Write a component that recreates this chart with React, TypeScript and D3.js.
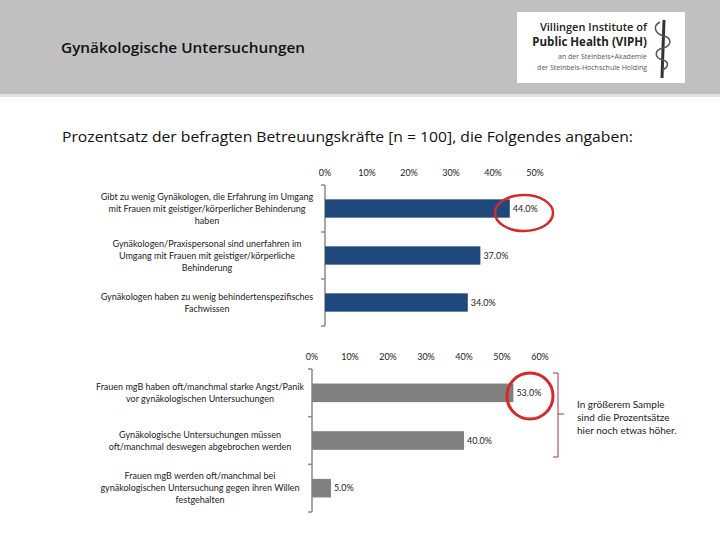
import * as d3 from "d3";

// chart 1 (blue)
const topCategories = [
  "Gibt zu wenig Gynäkologen, die Erfahrung im Umgang\nmit Frauen mit geistiger/körperlicher Behinderung\nhaben",
  "Gynäkologen/Praxispersonal sind unerfahren im\nUmgang mit Frauen mit geistiger/körperliche\nBehinderung",
  "Gynäkologen haben zu wenig behindertenspezifisches\nFachwissen",
];
const topValues = [44, 37, 34];
const topTicks = [0, 10, 20, 30, 40, 50];

// chart 2 (grey)
const bottomCategories = [
  "Frauen mgB haben oft/manchmal starke Angst/Panik\nvor gynäkologischen Untersuchungen",
  "Gynäkologische Untersuchungen müssen\noft/manchmal deswegen abgebrochen werden",
  "Frauen mgB werden oft/manchmal bei\ngynäkologischen Untersuchung gegen ihren Willen\nfestgehalten",
];
const bottomValues = [53, 40, 5];
const bottomTicks = [0, 10, 20, 30, 40, 50, 60];

const noteLines = ["In größerem Sample", "sind die Prozentsätze", "hier noch etwas höher."];

const FONT = "Lato, 'Open Sans', sans-serif";

function BarPanel(props: {
  cats: string[];
  values: number[];
  ticks: number[];
  x0: number;
  x1: number;
  y0: number;
  y1: number;
  labelX: number;
  color: string;
}) {
  const { cats, values, ticks, x0, x1, y0, y1, labelX, color } = props;
  const x = d3.scaleLinear().domain([0, ticks[ticks.length - 1]]).range([x0, x1]);
  const y = d3
    .scaleBand<number>()
    .domain(cats.map((_, i) => i))
    .range([y0, y1])
    .paddingInner(0.61)
    .paddingOuter(0.305);
  const step = y.step();
  const bounds = d3.range(cats.length + 1).map((i) => y0 + i * step);

  return (
    <g fontFamily={FONT}>
      {ticks.map((t) => (
        <text key={t} x={x(t)} y={y0 - 9} textAnchor="middle" fontSize={9} fill="#222">
          {t}%
        </text>
      ))}
      <line x1={x0} x2={x0} y1={y0} y2={y1} stroke="#8a8a8a" strokeWidth={1.5} />
      {bounds.map((b, i) => (
        <line key={i} x1={x0 - 4} x2={x0} y1={b} y2={b} stroke="#8a8a8a" strokeWidth={1.5} />
      ))}
      {values.map((v, i) => (
        <g key={i}>
          <rect x={x0} y={y(i)} width={x(v) - x0} height={y.bandwidth()} fill={color} />
          <text
            x={x(v) + 3}
            y={(y(i) as number) + y.bandwidth() / 2}
            dy="0.35em"
            fontSize={9}
            fill="#222"
          >
            {v.toFixed(1)}%
          </text>
        </g>
      ))}
      {cats.map((c, i) => {
        const lines = c.split("\n");
        const cy = (y(i) as number) + y.bandwidth() / 2;
        return (
          <text key={i} textAnchor="middle" fontSize={9} fill="#222">
            {lines.map((l, j) => (
              <tspan key={j} x={labelX} y={cy + (j - (lines.length - 1) / 2) * 12} dy="0.35em">
                {l}
              </tspan>
            ))}
          </text>
        );
      })}
    </g>
  );
}

export default function App() {
  return (
    <svg
      width={720}
      height={540}
      style={{ position: "absolute", left: 0, top: 0, background: "#fff" }}
    >
      {/* header */}
      <rect x={0} y={0} width={720} height={94} fill="#c0c0c0" />
      <rect x={0} y={94} width={720} height={3} fill="#e2e2e2" />
      <text
        x={61}
        y={53}
        fontFamily="'Open Sans', sans-serif"
        fontWeight={600}
        fontSize={15}
        fill="#111"
        textLength={244}
        lengthAdjust="spacingAndGlyphs"
      >
        Gynäkologische Untersuchungen
      </text>
      {/* logo */}
      <rect x={517} y={12} width={168} height={71} fill="#fff" />
      <g fontFamily="'Open Sans', sans-serif" textAnchor="end" fill="#222">
        <text x={647} y={31} fontSize={11} fontWeight={600}>
          Villingen Institute of
        </text>
        <text x={647} y={46} fontSize={11.5} fontWeight={700}>
          Public Health (VIPH)
        </text>
        <text x={647} y={59} fontSize={7} fill="#555">
          an der Steinbeis+Akademie
        </text>
        <text x={647} y={70} fontSize={7} fill="#555">
          der Steinbeis-Hochschule Holding
        </text>
      </g>
      <line x1={664} x2={662} y1={20} y2={78} stroke="#333" strokeWidth={3} />
      <path
        d="M660,22 C652,26 655,34 664,36 C672,38 672,46 663,48 C654,50 654,58 663,60 C670,62 668,68 662,70"
        fill="none"
        stroke="#555"
        strokeWidth={1.5}
      />

      {/* subtitle */}
      <text
        x={62}
        y={142}
        fontFamily="'Open Sans', sans-serif"
        fontSize={15}
        fill="#111"
        textLength={571}
        lengthAdjust="spacingAndGlyphs"
      >
        Prozentsatz der befragten Betreuungskräfte [n = 100], die Folgendes angaben:
      </text>

      <BarPanel
        cats={topCategories}
        values={topValues}
        ticks={topTicks}
        x0={325}
        x1={535}
        y0={185}
        y1={326}
        labelX={207}
        color="#1f497d"
      />
      <BarPanel
        cats={bottomCategories}
        values={bottomValues}
        ticks={bottomTicks}
        x0={312}
        x1={540}
        y0={369}
        y1={512}
        labelX={200}
        color="#808080"
      />

      {/* highlights */}
      <ellipse cx={524} cy={213} rx={29} ry={18} fill="none" stroke="#d42a2a" strokeWidth={2.5} />
      <circle cx={530} cy={396} r={23} fill="none" stroke="#d42a2a" strokeWidth={3} />
      <path
        d="M553,373 H558 V457 H553 M558,414 H564"
        fill="none"
        stroke="#a83040"
        strokeWidth={1}
      />
      <g fontFamily={FONT} fontSize={10} fill="#222">
        {noteLines.map((l, i) => (
          <text key={i} x={577} y={408 + i * 13}>
            {l}
          </text>
        ))}
      </g>
    </svg>
  );
}
